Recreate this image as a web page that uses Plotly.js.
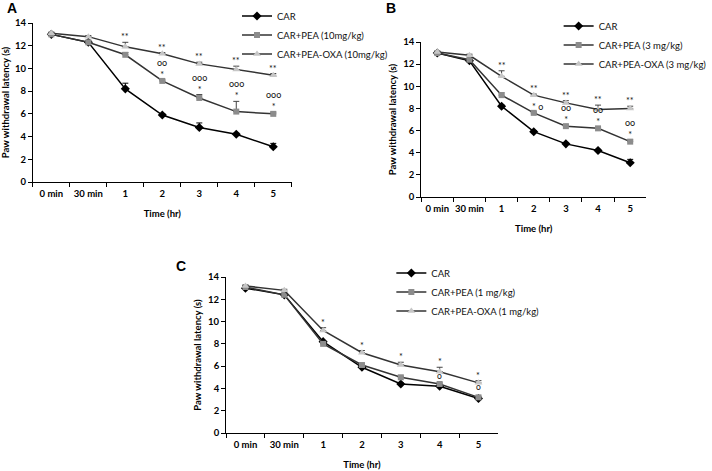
<!DOCTYPE html>
<html>
<head>
<meta charset="utf-8">
<script src="https://cdn.plot.ly/plotly-3.0.1.min.js"></script>
<style>html,body{margin:0;padding:0;background:#fff;}#chart{width:712px;height:471px;}</style>
</head>
<body>
<div id="chart"></div>
<script>
// ---------- data ----------
const categories = ["0 min", "30 min", "1", "2", "3", "4", "5"];
const seriesNames = ["CAR", "CAR+PEA", "CAR+PEA-OXA"];
const doseA = "(10mg/kg)";
const doseB = "(3 mg/kg)";
const doseC = "(1 mg/kg)";

// Panel A
const carA    = [13.0, 12.3, 8.2, 5.9, 4.8, 4.2, 3.1];
const carAErr = [0.05, 0.1, 0.5, 0.1, 0.4, 0.1, 0.3];
const peaA    = [13.0, 12.3, 11.2, 8.9, 7.4, 6.2, 6.0];
const peaAErr = [0.05, 0.1, 0.2, 0.1, 0.3, 0.9, 0.15];
const oxaA    = [13.1, 12.8, 11.9, 11.3, 10.4, 9.9, 9.4];
const oxaAErr = [0.05, 0.1, 0.4, 0.1, 0.15, 0.3, 0.15];
const sigAOxa     = ["", "", "**", "**", "**", "**", "**"];
const sigAPeaStar = ["", "", "", "*", "*", "*", "*"];
const sigAPeaCirc = ["", "", "", "oo", "ooo", "ooo", "ooo"];

// Panel B
const carB    = [13.0, 12.3, 8.2, 5.9, 4.8, 4.2, 3.1];
const carBErr = [0.05, 0.1, 0.1, 0.1, 0.1, 0.1, 0.3];
const peaB    = [13.0, 12.4, 9.2, 7.6, 6.4, 6.2, 5.0];
const peaBErr = [0.05, 0.1, 0.2, 0.1, 0.1, 0.1, 0.15];
const oxaB    = [13.1, 12.8, 10.9, 9.2, 8.5, 7.9, 8.0];
const oxaBErr = [0.05, 0.1, 0.5, 0.1, 0.2, 0.4, 0.2];
const sigBOxa     = ["", "", "**", "**", "**", "**", "**"];
const sigBPeaStar = ["", "", "", "* o", "*", "*", "*"];
const sigBPeaCirc = ["", "", "", "", "oo", "oo", "oo"];

// Panel C
const carC    = [13.0, 12.4, 8.2, 5.9, 4.4, 4.2, 3.1];
const carCErr = [0.05, 0.1, 0.1, 0.1, 0.1, 0.1, 0.1];
const peaC    = [13.1, 12.4, 8.0, 6.1, 5.0, 4.4, 3.2];
const peaCErr = [0.05, 0.1, 0.1, 0.1, 0.1, 0.1, 0.1];
const oxaC    = [13.2, 12.8, 9.2, 7.2, 6.1, 5.5, 4.5];
const oxaCErr = [0.05, 0.1, 0.25, 0.2, 0.25, 0.4, 0.2];
const sigCOxaStar = ["", "", "*", "*", "*", "*", "*"];
const sigCOxaCirc = ["", "", "", "", "", "o", "o"];

const panelLetters = ["A", "B", "C"];
const xTitle = "Time (hr)";
const yTitle = "Paw withdrawal latency (s)";

// ---------- styles ----------
const W = 712, H = 471;
const FONT = "Lato, 'Liberation Sans', Arial, sans-serif";
const styles = [
  {line: {color: "#000", width: 1.5}, marker: {symbol: "diamond", size: 7, color: "#000"}, err: "#000"},
  {line: {color: "#333", width: 1.5}, marker: {symbol: "square", size: 6, color: "#8c8c8c"}, err: "#444"},
  {line: {color: "#333", width: 1.5}, marker: {symbol: "triangle-up", size: 7, color: "#c6c6c6"}, err: "#444"}
];

function trace(name, y, err, st, xa, ya, lg) {
  return {
    type: "scatter", mode: "lines+markers", name: name,
    x: categories, y: y, xaxis: xa, yaxis: ya, legend: lg,
    line: st.line, marker: st.marker, cliponaxis: false,
    error_y: {type: "data", symmetric: false, array: err, arrayminus: err.map(() => 0),
              color: st.err, thickness: 1, width: 3}
  };
}

const panels = [
  {xa: "x", ya: "y", lg: "legend", dose: doseA, data: [[carA, carAErr], [peaA, peaAErr], [oxaA, oxaAErr]]},
  {xa: "x2", ya: "y2", lg: "legend2", dose: doseB, data: [[carB, carBErr], [peaB, peaBErr], [oxaB, oxaBErr]]},
  {xa: "x3", ya: "y3", lg: "legend3", dose: doseC, data: [[carC, carCErr], [peaC, peaCErr], [oxaC, oxaCErr]]}
];

const traces = [];
panels.forEach(p => {
  p.data.forEach((d, i) => {
    const nm = i === 0 ? seriesNames[0] : seriesNames[i] + " " + p.dose;
    traces.push(trace(nm, d[0], d[1], styles[i], p.xa, p.ya, p.lg));
  });
});

// ---------- annotations (significance marks placed from data) ----------
const annotations = [];
const SIGSIZE = 9;
// stars above the error bar, optional circles stacked above the stars (wrapped text)
function marksAbove(stars, circles, vals, errs, xa, ya) {
  stars.forEach((s, i) => {
    if (!s) return;
    const c = circles ? circles[i] : "";
    annotations.push({
      xref: xa, yref: ya, x: i, y: vals[i] + errs[i],
      text: c ? c + "<br>" + s : s, showarrow: false, yanchor: "bottom",
      xshift: s.indexOf(" ") >= 0 ? 4 : 0, yshift: -1, borderpad: 0,
      font: {family: FONT, size: SIGSIZE, color: "#111"}
    });
  });
}
// circles placed just under the point
function marksBelow(circles, vals, xa, ya) {
  circles.forEach((c, i) => {
    if (!c) return;
    annotations.push({
      xref: xa, yref: ya, x: i, y: vals[i], text: c, showarrow: false,
      yanchor: "top", yshift: 2, borderpad: 0,
      font: {family: FONT, size: 8.5, color: "#111"}
    });
  });
}
marksAbove(sigAOxa, null, oxaA, oxaAErr, "x", "y");
marksAbove(sigAPeaStar, sigAPeaCirc, peaA, peaAErr, "x", "y");
marksAbove(sigBOxa, null, oxaB, oxaBErr, "x2", "y2");
marksAbove(sigBPeaStar, sigBPeaCirc, peaB, peaBErr, "x2", "y2");
marksAbove(sigCOxaStar, null, oxaC, oxaCErr, "x3", "y3");
marksBelow(sigCOxaCirc, oxaC, "x3", "y3");

// panel letters
const letterPos = [[12, 8], [393, 8], [182, 266]];
panelLetters.forEach((L, i) => {
  annotations.push({xref: "paper", yref: "paper", x: letterPos[i][0] / W, y: 1 - letterPos[i][1] / H,
    xanchor: "center", yanchor: "middle", text: L, showarrow: false,
    font: {family: "'Liberation Sans', Arial, sans-serif", size: 14, color: "#000", weight: 700}});
});

// ---------- axes ----------
const tickFont = {family: FONT, size: 9.5, color: "#000", weight: 700};
function xAxis(x0, x1, anchor) {
  return {domain: [x0 / W, x1 / W], anchor: anchor, type: "category", range: [-0.5, 6.5],
    showline: true, linecolor: "#000", linewidth: 1, ticks: "outside", tickson: "boundaries",
    ticklen: 4, tickcolor: "#000", showgrid: false, zeroline: false, fixedrange: true, tickangle: 0,
    ticklabelstandoff: 3,
    tickfont: tickFont, title: {text: xTitle, font: tickFont, standoff: 11}};
}
function yAxis(yBottom, yTop, anchor) {
  return {domain: [1 - yBottom / H, 1 - yTop / H], anchor: anchor, range: [0, 14], dtick: 2,
    showline: true, linecolor: "#000", linewidth: 1, ticks: "outside", ticklen: 4, tickcolor: "#000",
    showgrid: false, zeroline: false, fixedrange: true, tickfont: tickFont,
    title: {text: yTitle, font: tickFont, standoff: 4}};
}
function legendAt(textX, midY) {
  return {x: (textX - 40) / W, y: 1 - midY / H, xanchor: "left", yanchor: "middle",
    bgcolor: "rgba(0,0,0,0)", font: {family: FONT, size: 9.5, color: "#111"}, traceorder: "normal"};
}

const layout = {
  width: W, height: H, margin: {l: 0, r: 0, t: 0, b: 0},
  paper_bgcolor: "#fff", plot_bgcolor: "#fff", showlegend: true,
  xaxis: xAxis(33, 293, "y"), yaxis: yAxis(182, 23, "x"),
  xaxis2: xAxis(423, 649, "y2"), yaxis2: yAxis(197, 42, "x2"),
  xaxis3: xAxis(227, 500, "y3"), yaxis3: yAxis(433, 277, "x3"),
  legend: legendAt(278, 35), legend2: legendAt(601, 45), legend3: legendAt(433, 292),
  annotations: annotations
};

Plotly.newPlot("chart", traces, layout, {displayModeBar: false, staticPlot: true});
</script>
</body>
</html>
